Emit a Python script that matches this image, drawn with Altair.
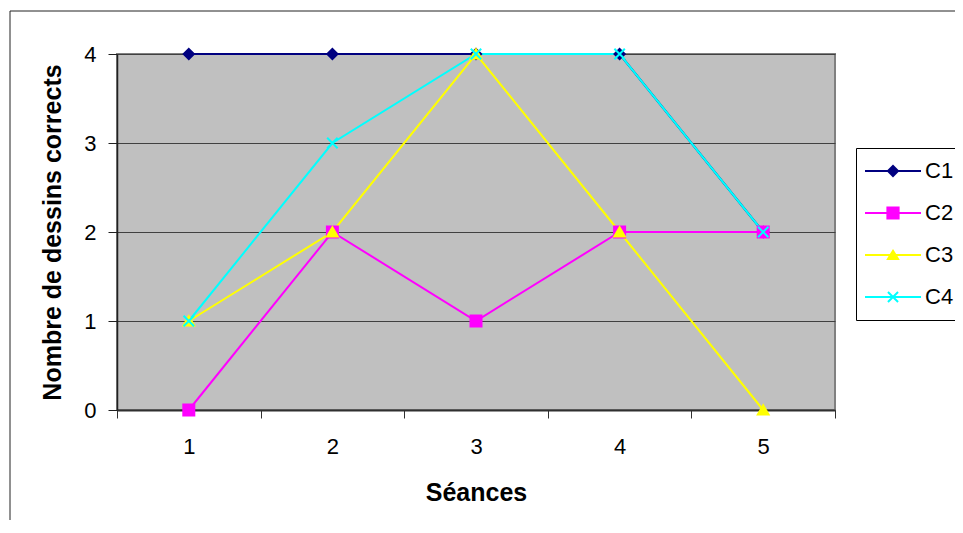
import altair as alt
import pandas as pd

# ---- data ----
seances = [1, 2, 3, 4, 5]
series = ["C1", "C2", "C3", "C4"]
c1 = [4, 4, 4, 4, 2]
c2 = [0, 2, 1, 2, 2]
c3 = [1, 2, 4, 2, 0]
c4 = [1, 3, 4, 4, 2]
colors = ["#000080", "#FF00FF", "#FFFF00", "#00FFFF"]
x_ticks = [0.5, 1, 1.5, 2, 2.5, 3, 3.5, 4, 4.5, 5, 5.5]
y_ticks = [0, 1, 2, 3, 4]

rows = []
for s, vals in zip(series, [c1, c2, c3, c4]):
    for x, v in zip(seances, vals):
        rows.append({"serie": s, "seance": x, "valeur": v})
df = pd.DataFrame(rows)

FONT = "Liberation Sans"
W, H = 718, 356

# marker shapes on the chart (unit box -1..1)
marker_paths = [
    "M0,-0.93L0.93,0L0,0.93L-0.93,0Z",
    "M-1,-1H1V1H-1Z",
    "M0,-0.85L0.97,0.8H-0.97Z",
    "M-0.95,-0.95L0.95,0.95M-0.95,0.95L0.95,-0.95",
]
# legend symbols: line segment + marker
legend_paths = [
    "M-1,0H1M-0.18,0L0,-0.18L0.18,0L0,0.18Z",
    "M-1,0H1M-0.2,-0.2H0.2V0.2H-0.2Z",
    "M-1,0H1M0,-0.15L0.18,0.14H-0.18Z",
    "M-1,0H1M-0.18,-0.18L0.18,0.18M-0.18,0.18L0.18,-0.18",
]

x_enc = alt.X(
    "seance:Q",
    scale=alt.Scale(domain=[0.5, 5.5], nice=False, zero=False),
    axis=alt.Axis(
        values=x_ticks,
        labelExpr="datum.value % 1 === 0 ? '' + datum.value : ''",
        tickOpacity={"condition": {"test": "datum.value % 1 === 0", "value": 0}, "value": 1},
        labelOverlap=False,
        labelFlush=False,
        grid=False,
        tickSize=8,
        tickColor="#303030",
        domainColor="#303030",
        domainWidth=2,
        labelPadding=18,
        title="Séances",
        titlePadding=23,
    ),
)
y_enc = alt.Y(
    "valeur:Q",
    scale=alt.Scale(domain=[0, 4], nice=False),
    axis=alt.Axis(
        values=y_ticks,
        format="d",
        grid=True,
        gridColor="#404040",
        gridWidth=1,
        tickSize=9,
        tickColor="#202020",
        domainColor="#202020",
        domainWidth=1.5,
        labelPadding=12,
        title="Nombre de dessins corrects",
        titlePadding=18,
    ),
)

lines = alt.Chart(df).mark_line(strokeWidth=2).encode(
    x=x_enc,
    y=y_enc,
    color=alt.Color("serie:N", scale=alt.Scale(domain=series, range=colors), legend=None),
)

points = alt.Chart(df).mark_point(filled=True, opacity=1, size=121, strokeWidth=2).encode(
    x=x_enc,
    y=y_enc,
    shape=alt.Shape("serie:N", scale=alt.Scale(domain=series, range=marker_paths), legend=None),
    fill=alt.Fill("serie:N", scale=alt.Scale(domain=series, range=colors), legend=None),
    stroke=alt.Stroke("serie:N", scale=alt.Scale(domain=series, range=colors), legend=None),
)

leg = alt.Legend(
    orient="none",
    legendX=739,
    legendY=94,
    title=None,
    direction="vertical",
    padding=8,
    strokeColor="black",
    fillColor="white",
    symbolSize=3136,
    symbolStrokeWidth=2,
    symbolOpacity=1,
    clipHeight=30,
    rowPadding=12,
    labelOffset=3,
    labelFontSize=22,
    labelFont=FONT,
    labelColor="black",
)

legend_layer = (
    alt.Chart(df)
    .transform_filter("false")
    .mark_point(filled=True, opacity=1, size=3136, strokeWidth=2)
    .encode(
        x=x_enc,
        y=y_enc,
        shape=alt.Shape("serie:N", scale=alt.Scale(domain=series, range=legend_paths), legend=leg),
        fill=alt.Fill("serie:N", scale=alt.Scale(domain=series, range=colors), legend=leg),
        stroke=alt.Stroke("serie:N", scale=alt.Scale(domain=series, range=colors), legend=leg),
    )
)

frame_data = alt.Data(values=[{"k": 1}])
frame_left = alt.Chart(frame_data).mark_rule(color="#222222", strokeWidth=1).encode(
    x=alt.value(-107), y=alt.value(-43), y2=alt.value(480)
)
frame_top = alt.Chart(frame_data).mark_rule(color="#222222", strokeWidth=1).encode(
    x=alt.value(-107), x2=alt.value(860), y=alt.value(-43)
)

chart = (
    alt.layer(lines, points, legend_layer, frame_left, frame_top)
    .resolve_scale(shape="independent", fill="independent", stroke="independent")
    .properties(
        width=W,
        height=H,
        autosize=alt.AutoSizeParams(type="none"),
        padding={"left": 109, "top": 46, "right": 120, "bottom": 110},
    )
    .configure(background="white")
    .configure_view(fill="#C0C0C0", stroke="#808080", strokeWidth=2)
    .configure_axis(
        labelFont=FONT,
        labelFontSize=22,
        labelColor="black",
        titleFont=FONT,
        titleFontSize=25,
        titleFontWeight="bold",
        titleColor="black",
    )
)

chart.save("out.html", embed_options={"renderer": "svg", "actions": False})
